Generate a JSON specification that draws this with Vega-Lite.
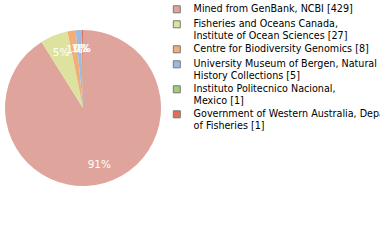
{
  "$schema": "https://vega.github.io/schema/vega-lite/v6.json",
  "width": 166,
  "height": 216,
  "padding": {"left": 0, "top": 0, "right": 0, "bottom": 0},
  "background": "white",
  "config": {"view": {"stroke": null}, "font": "DejaVu Sans"},
  "data": {
    "values": [
      {"source": "Mined from GenBank, NCBI [429]", "count": 429, "pct": "91%", "idx": 1},
      {"source": "Fisheries and Oceans Canada,|Institute of Ocean Sciences [27]", "count": 27, "pct": "5%", "idx": 2},
      {"source": "Centre for Biodiversity Genomics [8]", "count": 8, "pct": "1%", "idx": 3},
      {"source": "University Museum of Bergen, Natural|History Collections [5]", "count": 5, "pct": "1%", "idx": 4},
      {"source": "Instituto Politecnico Nacional,|Mexico [1]", "count": 1, "pct": "0%", "idx": 5},
      {"source": "Government of Western Australia, Department|of Fisheries [1]", "count": 1, "pct": "0%", "idx": 6}
    ]
  },
  "encoding": {
    "theta": {"field": "count", "type": "quantitative", "stack": true},
    "order": {"field": "idx", "type": "quantitative"},
    "color": {
      "field": "source",
      "type": "nominal",
      "sort": null,
      "scale": {
        "domain": [
          "Mined from GenBank, NCBI [429]",
          "Fisheries and Oceans Canada,|Institute of Ocean Sciences [27]",
          "Centre for Biodiversity Genomics [8]",
          "University Museum of Bergen, Natural|History Collections [5]",
          "Instituto Politecnico Nacional,|Mexico [1]",
          "Government of Western Australia, Department|of Fisheries [1]"
        ],
        "range": ["#dfa59c", "#dde39f", "#f1ae76", "#9dbbe0", "#a2cb7b", "#e07055"]
      },
      "legend": {
        "orient": "none",
        "legendX": 172,
        "legendY": 4.5,
        "title": null,
        "symbolType": "square",
        "symbolSize": 49,
        "symbolStrokeColor": "#777777",
        "symbolStrokeWidth": 1,
        "symbolOpacity": 1,
        "labelFontSize": 9.6,
        "labelColor": "#000000",
        "labelLimit": 300,
        "labelLineHeight": 10.5,
        "labelOffset": 12,
        "rowPadding": 3,
        "labelExpr": "split(datum.label, '|')"
      }
    }
  },
  "layer": [
    {"mark": {"type": "arc", "outerRadius": 78}},
    {
      "mark": {"type": "text", "radius": 59, "fill": "white", "fontSize": 10.5},
      "encoding": {"text": {"field": "pct", "type": "nominal"}, "color": {"value": "white"}}
    }
  ]
}
